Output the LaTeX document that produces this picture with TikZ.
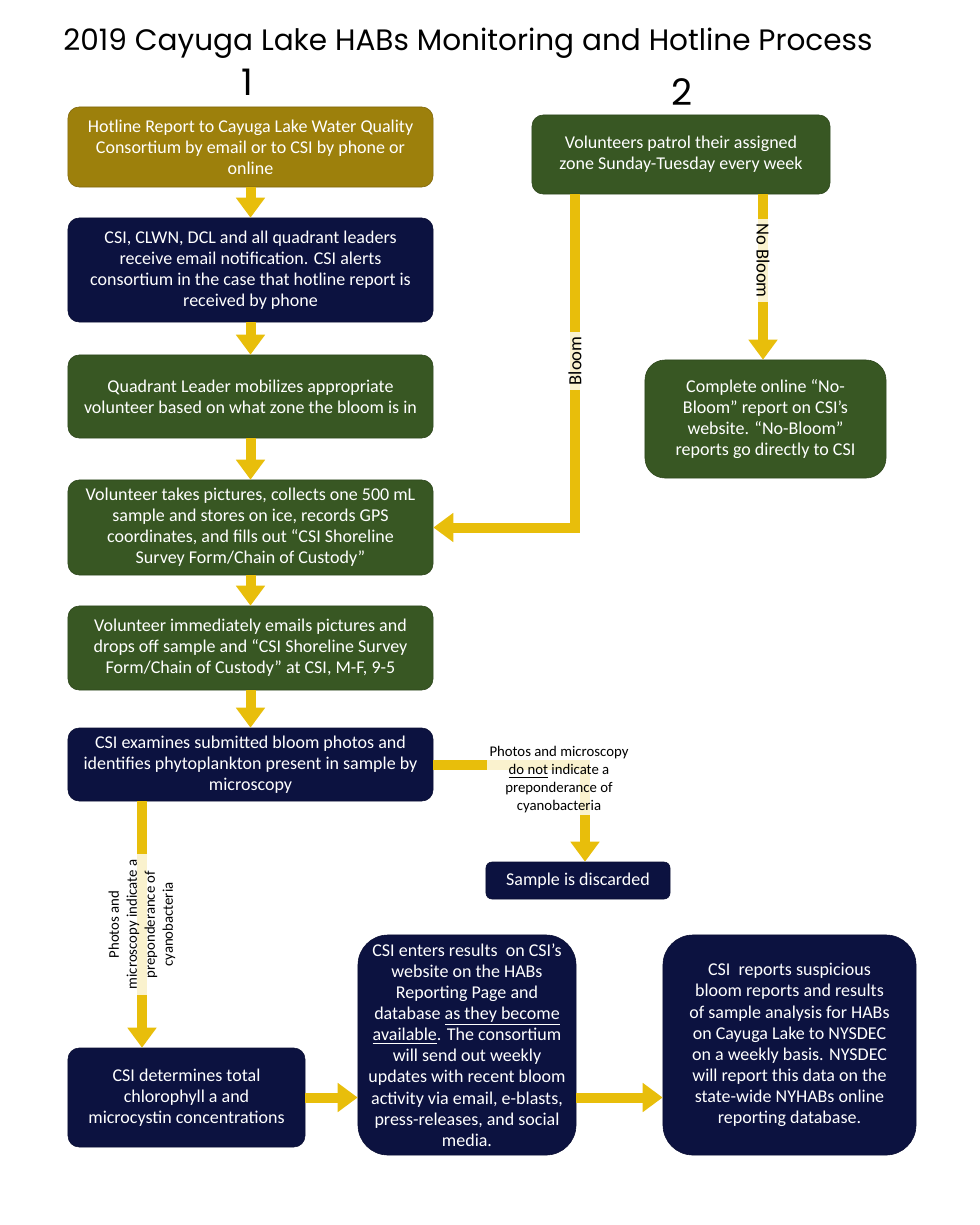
\documentclass[tikz,border=0pt]{standalone}
\usepackage{fontspec}
\setmainfont{Carlito}
\newfontfamily\titlefont{Poppins}
\usepackage{xcolor}
\usetikzlibrary{arrows.meta}
\definecolor{olivebg}{HTML}{9D800C}
\definecolor{navybg}{HTML}{0C1240}
\definecolor{greenbg}{HTML}{385723}
\definecolor{arrowyellow}{HTML}{E8BE0B}
\tikzset{
  box/.style={rounded corners=0.28cm, text=white, align=center, inner sep=2pt, font=\fontsize{12.8}{15}\selectfont},
  olivebox/.style={box, fill=olivebg, draw=olivebg!80!black},
  navybox/.style={box, fill=navybg, draw=navybg!80!black},
  greenbox/.style={box, fill=greenbg, draw=greenbg!80!black},
  flow/.style={draw=arrowyellow, line width=0.25cm, -{Triangle[width=0.7cm,length=0.5cm]}},
  lbl/.style={fill=white, fill opacity=0.8, text opacity=1, inner sep=1.5pt, align=center, font=\fontsize{10.5}{12.8}\selectfont},
  biglbl/.style={lbl, inner sep=3pt, font=\fontsize{13.2}{15}\selectfont}
}
\begin{document}
\begin{tikzpicture}[x=0.025cm,y=-0.025cm]
\useasboundingbox (0,0) rectangle (980,1225);
\node[] (title) at (468,43) {\titlefont\fontsize{21}{25}\selectfont 2019 Cayuga Lake HABs Monitoring and Hotline Process};
\node[] (one) at (247,82) {\titlefont\fontsize{26}{30}\selectfont 1};
\node[] (two) at (682,92) {\titlefont\fontsize{26}{30}\selectfont 2};

\node[olivebox, minimum width=9.125cm, minimum height=2cm] (hotline) at (250.5,147) {Hotline Report to Cayuga Lake Water Quality\\Consortium by email or to CSI by phone or\\online};
\node[navybox, minimum width=9.125cm, minimum height=2.6cm] (notify) at (250.5,270) {CSI, CLWN, DCL and all quadrant leaders\\receive email notification. CSI alerts\\consortium in the case that hotline report is\\received by phone};
\node[greenbox, minimum width=9.125cm, minimum height=2.075cm] (mobilize) at (250.5,396.5) {Quadrant Leader mobilizes appropriate\\volunteer based on what zone the bloom is in};
\node[greenbox, minimum width=9.125cm, minimum height=2.375cm] (sample) at (250.5,527.5) {Volunteer takes pictures, collects one 500 mL\\sample and stores on ice, records GPS\\coordinates, and fills out “CSI Shoreline\\Survey Form/Chain of Custody”};
\node[greenbox, minimum width=9.125cm, minimum height=2.1cm] (dropoff) at (250.5,648) {Volunteer immediately emails pictures and\\drops off sample and “CSI Shoreline Survey\\Form/Chain of Custody” at CSI, M-F, 9-5};
\node[navybox, minimum width=9.125cm, minimum height=1.825cm] (examine) at (250.5,764.5) {CSI examines submitted bloom photos and\\identifies phytoplankton present in sample by\\microscopy};
\node[navybox, rounded corners=0.15cm, minimum width=4.6cm, minimum height=0.925cm] (discard) at (578,880.5) {Sample is discarded};
\node[navybox, minimum width=5.925cm, minimum height=2.475cm] (chloro) at (186.5,1097.5) {CSI determines total\\chlorophyll a and\\microcystin concentrations};
\node[navybox, rounded corners=0.75cm, minimum width=5.45cm, minimum height=5.5cm] (results) at (467,1045) {CSI enters results\ \ on CSI’s\\website on the HABs\\Reporting Page and\\database \underline{as they become}\\\underline{available}. The consortium\\will send out weekly\\updates with recent bloom\\activity via email, e-blasts,\\press-releases, and social\\media.};
\node[navybox, rounded corners=0.75cm, minimum width=6.325cm, minimum height=5.5cm] (nysdec) at (789.5,1045) {CSI\ \ reports suspicious\\bloom reports and results\\of sample analysis for HABs\\on Cayuga Lake to NYSDEC\\on a weekly basis. NYSDEC\\will report this data on the\\state-wide NYHABs online\\reporting database.};
\node[greenbox, minimum width=7.45cm, minimum height=1.975cm] (patrol) at (681,154.5) {Volunteers patrol their assigned\\zone Sunday-Tuesday every week};
\node[greenbox, rounded corners=0.5cm, minimum width=6.025cm, minimum height=2.95cm] (nobloom) at (765.5,419) {Complete online “No-\\Bloom” report on CSI’s\\website. “No-Bloom”\\reports go directly to CSI};

\coordinate (bx) at (575,0);
\coordinate (nx) at (763,0);
\coordinate (dx) at (585,0);
\coordinate (ax) at (142,0);

\draw[flow] (hotline) -- (notify);
\draw[flow] (notify) -- (mobilize);
\draw[flow] (mobilize) -- (sample);
\draw[flow] (sample) -- (dropoff);
\draw[flow] (dropoff) -- (examine);
\draw[flow] (bx |- patrol.south) |- node[biglbl, rotate=90, pos=0.25] {Bloom} (sample.east);
\draw[flow] (nx |- patrol.south) -- node[biglbl, rotate=-90, pos=0.4] {No Bloom} (nx |- nobloom.north);
\draw[flow] (examine.east) -| (dx |- discard.north);
\node[lbl] (notlbl) at (559,780) {Photos and microscopy\\\underline{do not} indicate a\\preponderance of\\cyanobacteria};
\draw[flow] (ax |- examine.south) -- node[lbl, rotate=90, inner sep=4pt] {Photos and\\microscopy indicate a\\preponderance of\\cyanobacteria} (ax |- chloro.north);
\draw[flow] (chloro.east) -- (chloro.east -| results.west);
\draw[flow] (results.east |- chloro.east) -- (nysdec.west |- chloro.east);
\end{tikzpicture}
\end{document}
